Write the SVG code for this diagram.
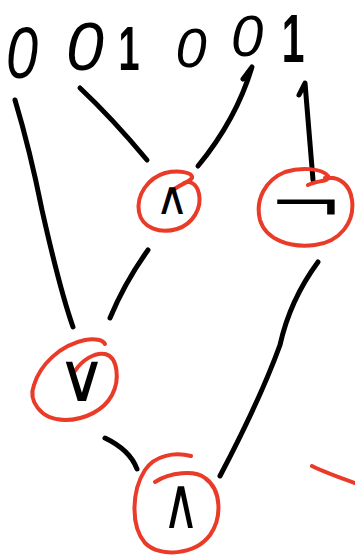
<svg xmlns="http://www.w3.org/2000/svg" width="355" height="557" viewBox="0 0 355 557">
<style>
.ink{fill:none;stroke:#000;stroke-width:5;stroke-linecap:round;stroke-linejoin:round}
.red{fill:none;stroke:#ea3a28;stroke-width:4;stroke-linecap:round;stroke-linejoin:round}
.dig{font-family:"Liberation Sans",Arial,sans-serif;font-style:italic;fill:#000;text-anchor:middle}
.one{font-family:"Liberation Sans",Arial,sans-serif;font-weight:bold;fill:#000;text-anchor:middle}
.sym{font-family:"DejaVu Sans",sans-serif;fill:#000;text-anchor:middle}
</style>
<rect width="355" height="557" fill="#fff"/>
<g id="connectors">
<path class="ink" d="M15,100 Q30,150 42,210 Q60,290 73,327"/>
<path class="ink" d="M80,88 Q112,118 147,160"/>
<path class="ink" d="M243,79 L252,67 Q236,120 198,166"/>
<path class="ink" d="M299,95 L305,83 L313,180"/>
<path class="ink" d="M148,250 Q125,282 110,318"/>
<path class="ink" d="M318,262 Q290,300 280,345 Q260,400 220,476"/>
<path class="ink" d="M105,438 Q130,450 137,469"/>
</g>
<g id="in0"><text class="dig" transform="translate(22,78) scale(0.8,1)" font-size="72">0</text></g>
<g id="in1"><text class="dig" transform="translate(85,70)" font-size="68">0</text></g>
<g id="in2"><text class="one" transform="translate(129,70) scale(0.6,1)" font-size="63">1</text></g>
<g id="in3"><text class="dig" transform="translate(191,67)" font-size="56">0</text></g>
<g id="in4"><text class="dig" transform="translate(247,56)" font-size="58">0</text></g>
<g id="in5"><text class="one" transform="translate(293,62) scale(0.6,1)" font-size="68">1</text></g>
<g id="and1">
<path class="red" d="M172,191 C180,184 190,182 192,178 C193,172 178,170 165,173 C148,178 136,195 139,212 C142,228 160,234 177,229 C193,224 202,208 199,194 C197,184 190,180 184,183"/>
<text class="sym" transform="translate(172,214)" font-size="46">∧</text>
</g>
<g id="not1">
<path class="red" d="M308,185 C318,180 330,182 328,176 C322,168 300,167 285,172 C265,180 255,200 260,220 C266,240 290,248 315,245 C340,242 355,222 352,200 C350,185 340,176 325,178"/>
<text class="sym" transform="translate(306,222) scale(1.7,1)" font-size="54">¬</text>
</g>
<g id="or1">
<path class="red" d="M75,371 C82,360 95,352 105,354 C118,357 120,380 112,395 C104,410 85,420 65,420 C40,420 28,400 34,385 C40,365 60,345 85,340 C95,338 103,340 105,344"/>
<text class="sym" transform="translate(82,401)" font-size="68">∨</text>
</g>
<g id="and2">
<path class="red" d="M191,456 C175,452 155,455 145,470 C132,490 130,525 145,543 C160,558 195,555 210,535 C222,518 222,490 205,478 C195,470 170,472 155,482"/>
<text class="sym" transform="translate(181,528) scale(0.7,1)" font-size="72">∧</text>
</g>
<path class="red" d="M312,466 C320,470 335,476 355,483"/>
</svg>
